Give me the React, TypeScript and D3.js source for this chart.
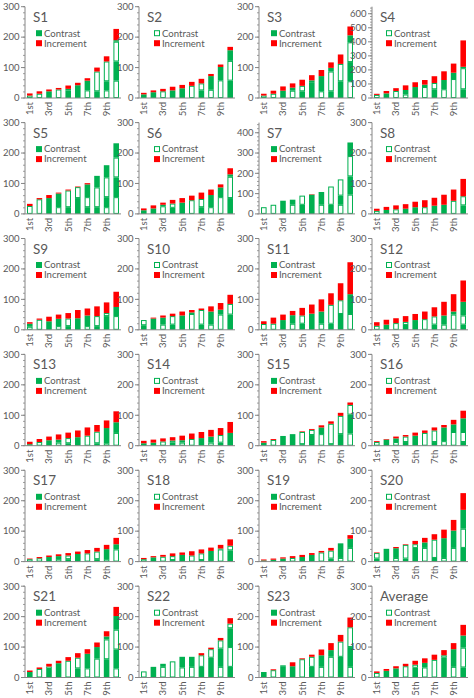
import React from "react";
import * as d3 from "d3";

// Contrast segments per bar, bottom to top: positive = filled green, negative = hollow (white with green outline)
const S1_C = [[-8],[-14],[22],[-28],[25,-5],[42],[-25,32],[22,-65],[-25,30,-65],[-57,63,-65,5]];
const S1_I = [7,8,6,5,11,8,8,13,17,37];
const S2_C = [[12],[19],[-22],[25],[32],[-40],[25,-23],[-27,45],[-58,44],[57,-65,35]];
const S2_I = [5,6,8,12,11,13,15,7,8,11];
const S3_C = [[-8],[-14],[24],[-24,10],[22,-18],[52,-6],[-22,50],[22,-65,12],[55,-57],[-55,63,-65,23]];
const S3_I = [6,10,14,14,20,17,20,18,31,29];
const S4_C = [[-22],[33],[-50],[-25,32],[78],[-78,17],[62,-45],[-62,66],[-135,45],[62,-150,10]];
const S4_I = [8,17,20,33,34,33,48,62,65,188];
const S5_C = [[-26],[-48],[52],[-22,45],[22,-55],[52,-36],[22,-33,42],[22,-65,38],[-22,33,-65,40],[-55,65,-65,47]];
const S5_I = [7,4,10,3,3,2,4,0,0,0];
const S6_C = [[12],[18],[-25,5],[20,-14],[37],[-45],[22,-27],[-22,40],[-55,32],[52,-70,8]];
const S6_I = [6,10,7,12,15,15,21,18,10,20];
const S7_C = [[-33],[-45],[65],[-45,25],[45,-45],[95],[-45,63],[45,-90],[-45,45,-80],[-95,90,-100,67]];
const S7_I = [0,0,0,0,0,2,0,0,0,0];
const S8_C = [[-10],[13],[-15],[17],[22],[-22],[27],[30],[-43],[28,-30]];
const S8_I = [7,10,13,15,18,23,26,33,37,57];
const S9_C = [[-10,10],[-33],[28],[-12,24],[12,-25],[38],[-12,35],[12,-33],[45,-10],[-45,30]];
const S9_I = [5,4,15,14,18,27,23,32,35,50];
const S10_C = [[15,-17],[37],[-17,23],[17,-28],[47],[-52,5],[17,-48],[-17,43],[-50,16],[50,-35]];
const S10_I = [0,3,7,8,13,8,5,17,22,30];
const S11_C = [[-19],[-20],[32],[-20,28],[20,-27],[53],[-20,40],[20,-62],[52,-45],[-52,65]];
const S11_I = [9,20,18,14,25,30,40,38,56,105];
const S12_C = [[-13],[17],[-22],[16,-10],[32],[-35],[17,-27],[-17,30],[-50,10],[17,-30,45]];
const S12_I = [12,16,16,19,20,25,30,45,57,70];
const S13_C = [[-5],[-12],[18],[-10,10],[8,-17],[28],[-33],[8,-38],[-8,50],[-42,35]];
const S13_I = [8,10,12,17,18,22,27,22,25,36];
const S14_C = [[8],[10],[-14],[10,-7],[-10,8],[-22],[25],[-10,20],[10,-25],[42]];
const S14_I = [8,10,10,11,15,18,20,22,23,36];
const S15_C = [[10],[-19],[32],[38],[5,-40],[35,-17],[-38,22],[5,-67],[38,-60],[-40,62,-32]];
const S15_I = [5,3,0,0,2,3,7,8,10,8];
const S16_C = [[-12],[20],[-12,12],[12,-18],[33],[-42],[12,-38],[-15,45],[-45,25],[12,-33,45]];
const S16_I = [3,2,6,5,10,8,10,8,15,25];
const S17_C = [[-8],[-11],[15],[-8,10],[8,-12],[25],[-27],[8,-25],[-8,33],[-40,17]];
const S17_I = [2,4,5,6,8,8,11,12,14,21];
const S18_C = [[-8],[14],[-16],[5,-13],[22],[-20],[5,-22],[-5,30],[-40,3],[37,-15]];
const S18_I = [4,4,6,9,8,14,13,11,12,21];
const S19_C = [[-4],[-6],[10],[-12],[15],[22],[-30],[10,-26],[-12,48],[-45,30]];
const S19_I = [3,4,4,6,7,6,5,9,0,12];
const S20_C = [[10,-18],[42],[-12,32],[10,-45],[45,-12],[-45,18],[12,-60],[-12,65],[-45,57],[45,-63,62]];
const S20_I = [2,0,4,2,11,15,18,28,35,55];
const S21_C = [[18],[-28],[28,-8],[47],[-55],[30,-35],[-30,48],[-62,38],[60,-65,10],[-30,62,-65,45]];
const S21_I = [5,5,9,8,12,15,15,15,17,30];
const S22_C = [[-20],[35],[-35,10],[-53],[-33,35],[-35,33],[35,-38],[65,-28],[-35,60,-27],[35,-65,62,-15]];
const S22_I = [0,0,0,0,0,0,7,5,8,18];
const S23_C = [[18],[-24],[35,-5],[37],[-60],[35,-33],[-35,38],[-68,22],[68,-50],[-35,65,-65]];
const S23_I = [0,3,0,13,3,7,19,23,22,32];
const AVG_C = [[-15],[22],[30],[-37],[32,-10],[-33,15],[-58],[65,-8],[-35,58],[33,-65,40]];
const AVG_I = [5,6,7,8,13,15,17,17,20,35];

const PANEL_NAMES = ["S1","S2","S3","S4","S5","S6","S7","S8","S9","S10","S11","S12",
  "S13","S14","S15","S16","S17","S18","S19","S20","S21","S22","S23","Average"];
const CONTRAST = [S1_C,S2_C,S3_C,S4_C,S5_C,S6_C,S7_C,S8_C,S9_C,S10_C,S11_C,S12_C,
  S13_C,S14_C,S15_C,S16_C,S17_C,S18_C,S19_C,S20_C,S21_C,S22_C,S23_C,AVG_C];
const INCREMENT = [S1_I,S2_I,S3_I,S4_I,S5_I,S6_I,S7_I,S8_I,S9_I,S10_I,S11_I,S12_I,
  S13_I,S14_I,S15_I,S16_I,S17_I,S18_I,S19_I,S20_I,S21_I,S22_I,S23_I,AVG_I];
const Y_MAX = [300,300,300,650,300,300,450,300,300,300,300,300,300,300,300,300,300,300,300,300,300,300,300,300];
const CATEGORIES = ["1st","2nd","3rd","4th","5th","6th","7th","8th","9th","10th"];
const LEGEND_LABELS = ["Contrast","Increment"];

const GREEN = "#00B050";
const RED = "#FF0000";
const TEXT = "#595959";
const AXIS = "#868686";
const FONT = "Lato, 'Open Sans', sans-serif";

const COL_X = [25, 139, 259, 372];
const LEGEND_DX = [11, 15, 12, 14];
const ROW_TOP0 = 6.7;
const ROW_STEP = 115.9;
const PLOT_W = 96;
const PLOT_H = 91.3;

function Panel({ idx }: { idx: number }) {
  const col = idx % 4;
  const row = Math.floor(idx / 4);
  const left = COL_X[col];
  const top = ROW_TOP0 + row * ROW_STEP;
  const max = Y_MAX[idx];
  const x = d3.scaleBand<number>().domain(d3.range(10)).range([0, PLOT_W]).paddingInner(0.42).paddingOuter(0.21);
  const y = d3.scaleLinear().domain([0, max]).range([PLOT_H, 0]);
  const majors = d3.range(0, max + 1e-6, 100);
  const minors = d3.range(0, max + 1e-6, 20);
  const contrast = CONTRAST[idx];
  const inc = INCREMENT[idx];
  const filledLegend = idx % 2 === 0 && idx !== 23;
  const bw = x.bandwidth();

  return (
    <g transform={`translate(${left},${top})`}>
      {contrast.map((segs, i) => {
        let acc = 0;
        const rects = segs.map((v, j) => {
          const h = Math.abs(v);
          const y0 = acc;
          acc += h;
          const filled = v > 0;
          const yTop = y(acc);
          const height = y(y0) - y(acc);
          return filled ? (
            <rect key={j} x={x(i)} y={yTop} width={bw} height={height} fill={GREEN} />
          ) : (
            <rect key={j} x={(x(i) as number) + 0.5} y={yTop + 0.5} width={bw - 1} height={Math.max(0, height - 1)}
              fill="#fff" stroke={GREEN} strokeWidth={1} />
          );
        });
        const incH = inc[i];
        return (
          <g key={i}>
            {rects}
            {incH > 0 && (
              <rect x={x(i)} y={y(acc + incH)} width={bw} height={y(acc) - y(acc + incH)} fill={RED} />
            )}
          </g>
        );
      })}
      <line x1={0} x2={0} y1={0} y2={PLOT_H} stroke={AXIS} strokeWidth={1} />
      {minors.map((t) => (
        <line key={"m" + t} x1={-2} x2={0} y1={y(t)} y2={y(t)} stroke={AXIS} strokeWidth={0.8} />
      ))}
      {majors.map((t) => (
        <g key={"M" + t}>
          <line x1={-4} x2={0} y1={y(t)} y2={y(t)} stroke={AXIS} strokeWidth={1} />
          <text x={-5.5} y={y(t)} dy="0.35em" textAnchor="end" fontSize={9.5} fill={TEXT} fontFamily={FONT}>{t}</text>
        </g>
      ))}
      <line x1={0} x2={PLOT_W} y1={PLOT_H} y2={PLOT_H} stroke={AXIS} strokeWidth={1} />
      {CATEGORIES.map((c, i) => i % 2 === 0 ? (
        <text key={c} transform={`translate(${(x(i) as number) + bw / 2},${PLOT_H + 4}) rotate(-90)`}
          textAnchor="end" dy="0.35em" fontSize={9.5} fill={TEXT} fontFamily={FONT}>{c}</text>
      ) : null)}
      <text x={8} y={15} fontSize={13.5} fill={TEXT} fontFamily={FONT}>{PANEL_NAMES[idx]}</text>
      <g transform={`translate(${LEGEND_DX[col]},26.5)`}>
        {filledLegend ? (
          <rect x={0} y={-3} width={6} height={6} fill={GREEN} />
        ) : (
          <rect x={0.5} y={-2.5} width={5} height={5} fill="#fff" stroke={GREEN} strokeWidth={1} />
        )}
        <text x={8} y={0} dy="0.35em" fontSize={9.6} fill={TEXT} fontFamily={FONT}>{LEGEND_LABELS[0]}</text>
        <rect x={0} y={7} width={6} height={6} fill={RED} />
        <text x={8} y={10} dy="0.35em" fontSize={9.6} fill={TEXT} fontFamily={FONT}>{LEGEND_LABELS[1]}</text>
      </g>
    </g>
  );
}

export default function App() {
  return (
    <svg width={474} height={698} style={{ position: "absolute", left: 0, top: 0, background: "#fff" }}>
      <rect x={0} y={0} width={474} height={698} fill="#fff" />
      {PANEL_NAMES.map((_, i) => <Panel key={i} idx={i} />)}
    </svg>
  );
}
